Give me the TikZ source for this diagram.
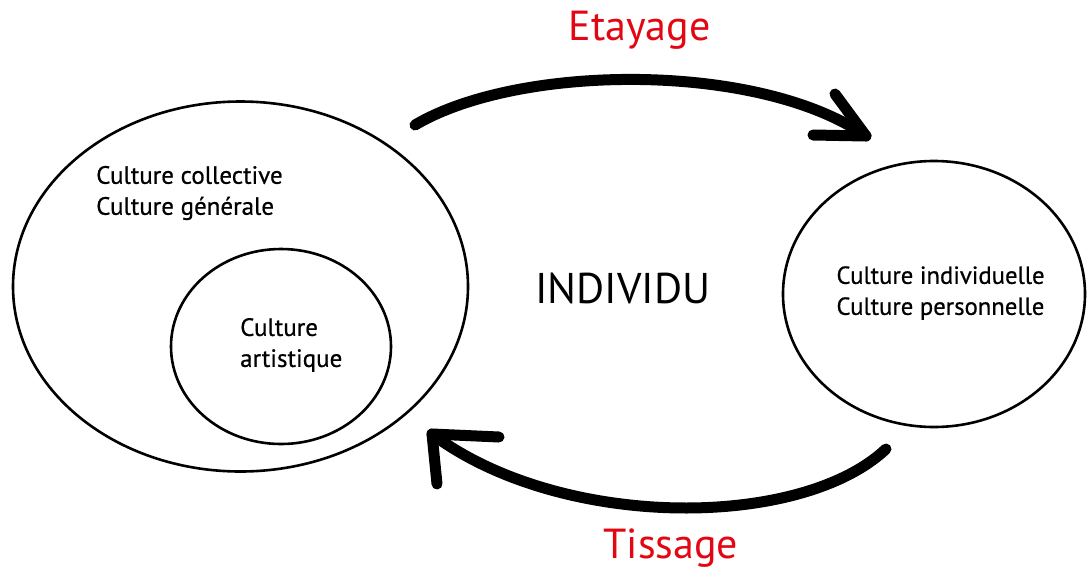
\documentclass[tikz,border=0pt]{standalone}
\usepackage{fontspec}
\setmainfont{PT Sans}
\newfontfamily\smallfont[FakeBold=0.6]{PT Sans}
\definecolor{labelred}{HTML}{E30613}
\tikzset{
  ring/.style={draw=black, line width=2.6pt},
  txt/.style={font=\smallfont\fontsize{25}{31}\selectfont, align=left, inner sep=0pt},
  bigarrow/.style={draw=black, line width=11pt, line cap=round, line join=round},
  redlabel/.style={text=labelred, font=\fontsize{42}{50}\selectfont, inner sep=0pt}
}
\begin{document}
\begin{tikzpicture}[x=1pt, y=-1pt]
\useasboundingbox (0,0) rectangle (1087,571);
% ellipses
\draw[ring] (240.5,286.5) ellipse [x radius=227.5, y radius=185];
\draw[ring] (281,346.5) ellipse [x radius=110, y radius=97.5];
\draw[ring] (934,294) ellipse [x radius=151, y radius=133];
% texts
\node[txt, anchor=west] (coll) at (96,193) {Culture collective\\Culture générale};
\node[txt, anchor=west] (art) at (240,345) {Culture\\artistique};
\node[txt, anchor=center, font=\smallfont\fontsize{24.7}{31}\selectfont] (ind) at (940.5,293) {Culture individuelle\\Culture personnelle};
\node[inner sep=0pt, font=\fontsize{43}{50}\selectfont] (individu) at (623,288) {INDIVIDU};
\node[redlabel] (eta) at (639.5,30) {Etayage};
\node[redlabel] (tis) at (671,548) {Tissage};
% arrows
\coordinate (a1s) at (415,125);
\coordinate (a1t) at (866,136);
\coordinate (a1b1) at (835,94);
\coordinate (a1b2) at (813,135);
\draw[bigarrow] (a1s) .. controls (520,63) and (760,62) .. (a1t);
\draw[bigarrow] (a1b1) -- (a1t) -- (a1b2);
\coordinate (a2s) at (886,449);
\coordinate (a2t) at (432,434);
\coordinate (a2b1) at (499,437);
\coordinate (a2b2) at (437,484);
\draw[bigarrow] (a2s) .. controls (800,530) and (560,530) .. (a2t);
\draw[bigarrow] (a2b1) -- (a2t) -- (a2b2);
\end{tikzpicture}
\end{document}
